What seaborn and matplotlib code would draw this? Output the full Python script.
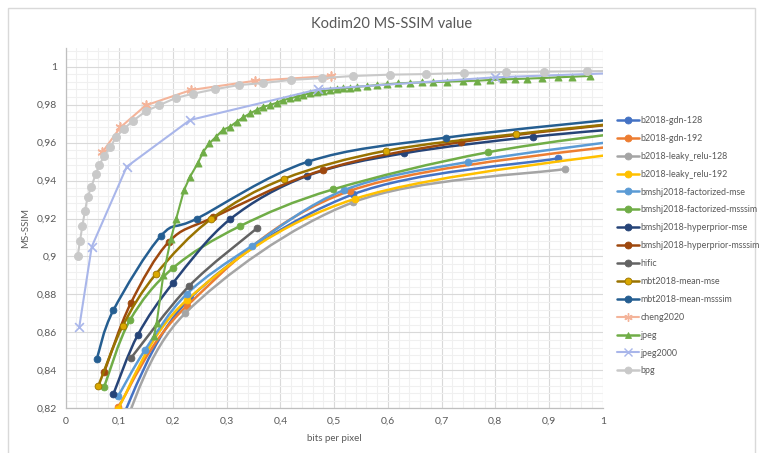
import numpy as np
import pandas as pd
import matplotlib
matplotlib.use("Agg")
import matplotlib.pyplot as plt
import seaborn as sns
from matplotlib.path import Path
from matplotlib.patches import PathPatch, Rectangle
from matplotlib.lines import Line2D
from matplotlib.ticker import MultipleLocator, FuncFormatter

# ---------------- data (bits per pixel, MS-SSIM) ----------------
b2018_gdn_128_x = [0.100, 0.2318, 0.5348, 0.9166]
b2018_gdn_128_y = [0.812, 0.8780, 0.9327, 0.9517]

b2018_gdn_192_x = [0.0983, 0.2257, 0.5298, 1.10]
b2018_gdn_192_y = [0.8208, 0.8739, 0.9346, 0.9610]

b2018_leaky_relu_128_x = [0.105, 0.2225, 0.5360, 0.9302]
b2018_leaky_relu_128_y = [0.808, 0.8700, 0.9286, 0.9461]

b2018_leaky_relu_192_x = [0.097, 0.2257, 0.5391, 1.10]
b2018_leaky_relu_192_y = [0.8195, 0.8770, 0.9304, 0.9570]

bmshj2018_factorized_mse_x = [0.0983, 0.1480, 0.2257, 0.3467, 0.5192, 0.7490, 1.10]
bmshj2018_factorized_mse_y = [0.8265, 0.8507, 0.8802, 0.9055, 0.9350, 0.9498, 0.9635]

bmshj2018_factorized_msssim_x = [0.0717, 0.1201, 0.1996, 0.3250, 0.4987, 0.7862, 1.10]
bmshj2018_factorized_msssim_y = [0.8311, 0.8665, 0.8938, 0.9160, 0.9354, 0.9549, 0.9675]

bmshj2018_hyperprior_mse_x = [0.0890, 0.1345, 0.2007, 0.3063, 0.4503, 0.6309, 0.8711, 1.10]
bmshj2018_hyperprior_mse_y = [0.8274, 0.8586, 0.8862, 0.9196, 0.9425, 0.9544, 0.9631, 0.9688]

bmshj2018_hyperprior_msssim_x = [0.0723, 0.1214, 0.1927, 0.2752, 0.4801, 0.7365, 1.10]
bmshj2018_hyperprior_msssim_y = [0.8393, 0.8753, 0.9078, 0.9206, 0.9456, 0.9603, 0.9721]

hific_x = [0.1214, 0.2300, 0.3561]
hific_y = [0.8463, 0.8844, 0.9148]

mbt2018_mean_mse_x = [0.0611, 0.1065, 0.1685, 0.2709, 0.4075, 0.5968, 0.8389, 1.10]
mbt2018_mean_mse_y = [0.8317, 0.8634, 0.8908, 0.9197, 0.9410, 0.9557, 0.9645, 0.9722]

mbt2018_mean_msssim_x = [0.0581, 0.0890, 0.1778, 0.2443, 0.4510, 0.7080, 1.10]
mbt2018_mean_msssim_y = [0.8458, 0.8716, 0.9109, 0.9199, 0.9499, 0.9626, 0.9745]

cheng2020_x = [0.0685, 0.1020, 0.1493, 0.2337, 0.3534, 0.4944]
cheng2020_y = [0.9549, 0.9680, 0.9796, 0.9877, 0.9926, 0.9951]

jpeg_x = [0.1648, 0.1698, 0.1821, 0.1959, 0.2058, 0.2207, 0.2318, 0.2462, 0.2566,
          0.2678, 0.2803, 0.2927, 0.3063, 0.3188, 0.3311, 0.3436, 0.3560, 0.3683,
          0.3808, 0.3933, 0.4056, 0.4181, 0.4305, 0.4428, 0.4553, 0.4678, 0.4801,
          0.4926, 0.5050, 0.5173, 0.5298, 0.5423, 0.5609, 0.5795, 0.5981, 0.6198,
          0.6415, 0.6633, 0.6850, 0.7098, 0.7408, 0.7657, 0.7905, 0.8153, 0.8371,
          0.8588, 0.8867, 0.9177, 0.9426, 0.9767]
jpeg_y = [0.8581, 0.8651, 0.8902, 0.9090, 0.9196, 0.9350, 0.9420, 0.9491, 0.9552,
          0.9596, 0.9631, 0.9666, 0.9684, 0.9710, 0.9733, 0.9754, 0.9772, 0.9789,
          0.9798, 0.9810, 0.9824, 0.9833, 0.9842, 0.9851, 0.9860, 0.9865, 0.9872,
          0.9877, 0.9881, 0.9886, 0.9889, 0.9894, 0.9898, 0.9903, 0.9907, 0.9912,
          0.9915, 0.9917, 0.9919, 0.9921, 0.9924, 0.9926, 0.9930, 0.9933, 0.9935,
          0.9937, 0.9940, 0.9944, 0.9947, 0.9951]

jpeg2000_x = [0.0257, 0.0488, 0.1140, 0.2318, 0.4708, 0.80, 1.02]
jpeg2000_y = [0.8630, 0.9051, 0.9473, 0.9719, 0.9881, 0.9944, 0.9966]

bpg_x = [0.0227, 0.0270, 0.0313, 0.0363, 0.0413, 0.0480, 0.0562, 0.0629, 0.0723,
         0.0834, 0.0946, 0.1089, 0.1257, 0.1499, 0.1736, 0.2052, 0.2380, 0.2778,
         0.3225, 0.3683, 0.4194, 0.4782, 0.5359, 0.6037, 0.6713, 0.7421, 0.8197,
         0.8916, 0.9717, 1.02]
bpg_y = [0.9002, 0.9083, 0.9159, 0.9241, 0.9315, 0.9366, 0.9434, 0.9483, 0.9531,
         0.9577, 0.9631, 0.9673, 0.9715, 0.9766, 0.9796, 0.9835, 0.9858, 0.9881,
         0.9903, 0.9914, 0.9930, 0.9940, 0.9951, 0.9958, 0.9961, 0.9967, 0.9972,
         0.9974, 0.9976, 0.9977]

series_names = ["b2018-gdn-128", "b2018-gdn-192", "b2018-leaky_relu-128",
                "b2018-leaky_relu-192", "bmshj2018-factorized-mse",
                "bmshj2018-factorized-msssim", "bmshj2018-hyperprior-mse",
                "bmshj2018-hyperprior-msssim", "hific", "mbt2018-mean-mse",
                "mbt2018-mean-msssim", "cheng2020", "jpeg", "jpeg2000", "bpg"]

x_tick_values = [0, 0.1, 0.2, 0.3, 0.4, 0.5, 0.6, 0.7, 0.8, 0.9, 1.0]
y_tick_values = [0.82, 0.84, 0.86, 0.88, 0.90, 0.92, 0.94, 0.96, 0.98, 1.0]

# ---------------- styling ----------------
series_xy = {
    "b2018-gdn-128": (b2018_gdn_128_x, b2018_gdn_128_y),
    "b2018-gdn-192": (b2018_gdn_192_x, b2018_gdn_192_y),
    "b2018-leaky_relu-128": (b2018_leaky_relu_128_x, b2018_leaky_relu_128_y),
    "b2018-leaky_relu-192": (b2018_leaky_relu_192_x, b2018_leaky_relu_192_y),
    "bmshj2018-factorized-mse": (bmshj2018_factorized_mse_x, bmshj2018_factorized_mse_y),
    "bmshj2018-factorized-msssim": (bmshj2018_factorized_msssim_x, bmshj2018_factorized_msssim_y),
    "bmshj2018-hyperprior-mse": (bmshj2018_hyperprior_mse_x, bmshj2018_hyperprior_mse_y),
    "bmshj2018-hyperprior-msssim": (bmshj2018_hyperprior_msssim_x, bmshj2018_hyperprior_msssim_y),
    "hific": (hific_x, hific_y),
    "mbt2018-mean-mse": (mbt2018_mean_mse_x, mbt2018_mean_mse_y),
    "mbt2018-mean-msssim": (mbt2018_mean_msssim_x, mbt2018_mean_msssim_y),
    "cheng2020": (cheng2020_x, cheng2020_y),
    "jpeg": (jpeg_x, jpeg_y),
    "jpeg2000": (jpeg2000_x, jpeg2000_y),
    "bpg": (bpg_x, bpg_y),
}

line_colors = {
    "b2018-gdn-128": "#4472C4", "b2018-gdn-192": "#ED7D31",
    "b2018-leaky_relu-128": "#A5A5A5", "b2018-leaky_relu-192": "#FFC000",
    "bmshj2018-factorized-mse": "#5B9BD5", "bmshj2018-factorized-msssim": "#70AD47",
    "bmshj2018-hyperprior-mse": "#264478", "bmshj2018-hyperprior-msssim": "#9E480E",
    "hific": "#636363", "mbt2018-mean-mse": "#997300",
    "mbt2018-mean-msssim": "#255E91", "cheng2020": "#F4B49A",
    "jpeg": "#70AD47", "jpeg2000": "#A9B6EA", "bpg": "#C9C9C9",
}
marker_faces = dict(line_colors)
marker_faces["mbt2018-mean-mse"] = "#D9A800"
markers = {n: "o" for n in series_names}
markers["cheng2020"] = (6, 2, 0)
markers["jpeg"] = "^"
markers["jpeg2000"] = "x"
smooth = {n: True for n in series_names}
for n in ["cheng2020", "jpeg", "jpeg2000", "bpg"]:
    smooth[n] = False

sns.set_theme(style="white")
plt.rcParams["font.family"] = ["Lato", "DejaVu Sans"]
TXT = "#595959"

W, H = 763, 453
fig = plt.figure(figsize=(W / 100, H / 100), dpi=100)
x0, x1, ytop, ybot = 65.5, 602.7, 47.7, 408.3
ax = fig.add_axes([x0 / W, 1 - ybot / H, (x1 - x0) / W, (ybot - ytop) / H])

XMIN, XMAX, YMIN, YMAX = 0.0, 1.0, 0.82, 1.01
SX = (x1 - x0) / (XMAX - XMIN)
SY = (ybot - ytop) / (YMAX - YMIN)


def smooth_path(xs, ys, t=1 / 6):
    P = np.column_stack([np.asarray(xs) * SX, np.asarray(ys) * SY])
    n = len(P)
    verts = [P[0]]
    codes = [Path.MOVETO]
    for i in range(n - 1):
        p0 = P[i - 1] if i > 0 else P[i]
        p1, p2 = P[i], P[i + 1]
        p3 = P[i + 2] if i + 2 < n else P[i + 1]
        verts += [p1 + (p2 - p0) * t, p2 - (p3 - p1) * t, p2]
        codes += [Path.CURVE4] * 3
    V = np.array(verts)
    V[:, 0] /= SX
    V[:, 1] /= SY
    return Path(V, codes)


for k, name in enumerate(series_names):
    xs, ys = series_xy[name]
    df = pd.DataFrame({"bpp": xs, "msssim": ys})
    z = 3 + k * 0.1
    lw = 1.5 if name in ("cheng2020", "jpeg2000", "bpg", "jpeg") else 1.8
    if smooth[name]:
        ax.add_patch(PathPatch(smooth_path(xs, ys), fill=False,
                               edgecolor=line_colors[name], lw=lw, zorder=z))
    else:
        sns.lineplot(data=df, x="bpp", y="msssim", ax=ax, sort=False,
                     color=line_colors[name], lw=lw, zorder=z, legend=False)
    m = markers[name]
    if m in ("x",) or isinstance(m, tuple):
        sns.scatterplot(data=df, x="bpp", y="msssim", ax=ax, marker=m, s=40,
                        color=line_colors[name], linewidth=1.2, zorder=z + 0.05,
                        legend=False)
    else:
        size = 34 if name == "bpg" else (26 if name == "jpeg" else 24)
        sns.scatterplot(data=df, x="bpp", y="msssim", ax=ax, marker=m, s=size,
                        color=marker_faces[name], edgecolor=line_colors[name],
                        linewidth=0.6, zorder=z + 0.05, legend=False)

ax.set_xlim(XMIN, XMAX)
ax.set_ylim(YMIN, YMAX)
ax.xaxis.set_major_locator(MultipleLocator(0.1))
ax.xaxis.set_minor_locator(MultipleLocator(0.02))
ax.yaxis.set_major_locator(MultipleLocator(0.02))
ax.yaxis.set_minor_locator(MultipleLocator(0.004))
ax.set_xticks(x_tick_values)
ax.set_yticks(y_tick_values)


def comma_fmt(v, pos):
    s = f"{v:.2f}".rstrip("0").rstrip(".")
    return s.replace(".", ",")


ax.xaxis.set_major_formatter(FuncFormatter(comma_fmt))
ax.yaxis.set_major_formatter(FuncFormatter(comma_fmt))
ax.grid(True, which="major", color="#D9D9D9", lw=0.8)
ax.grid(True, which="minor", color="#F0F0F0", lw=0.8)
ax.set_axisbelow(True)
for s in ("top", "right"):
    ax.spines[s].set_visible(False)
for s in ("left", "bottom"):
    ax.spines[s].set_color("#BFBFBF")
    ax.spines[s].set_linewidth(0.9)
ax.tick_params(axis="both", which="major", labelsize=7.5, colors=TXT,
               length=3, width=0.8, color="#BFBFBF", pad=3)
ax.tick_params(axis="both", which="minor", length=0)
ax.set_xlabel("bits per pixel", fontsize=7, color=TXT, labelpad=6)
ax.set_ylabel("MS-SSIM", fontsize=7, color=TXT, labelpad=5)

fig.text(392 / W, 1 - 24 / H, "Kodim20 MS-SSIM value", ha="center", va="center",
         fontsize=10.5, color=TXT)

# chart border
fig.add_artist(Rectangle((8 / W, -0.05), (755 - 8) / W, 1 - 8 / H + 0.05,
                         transform=fig.transFigure, fill=False,
                         edgecolor="#D9D9D9", lw=1))

handles = []
for name in series_names:
    m = markers[name]
    if m == "x" or isinstance(m, tuple):
        h = Line2D([], [], color=line_colors[name], lw=1.5, marker=m, ms=6,
                   mew=1.0)
    else:
        h = Line2D([], [], color=line_colors[name], lw=1.8, marker=m, ms=5,
                   mfc=marker_faces[name], mec=line_colors[name], mew=0.6)
    handles.append(h)
leg = fig.legend(handles, series_names, loc="upper left",
                 bbox_to_anchor=(617 / W, 1 - 116 / H), frameon=False,
                 fontsize=6.4, handlelength=2.5, handletextpad=0.15,
                 labelspacing=1.0, borderpad=0, borderaxespad=0)
for t in leg.get_texts():
    t.set_color(TXT)

fig.savefig("out.png", dpi=100)
